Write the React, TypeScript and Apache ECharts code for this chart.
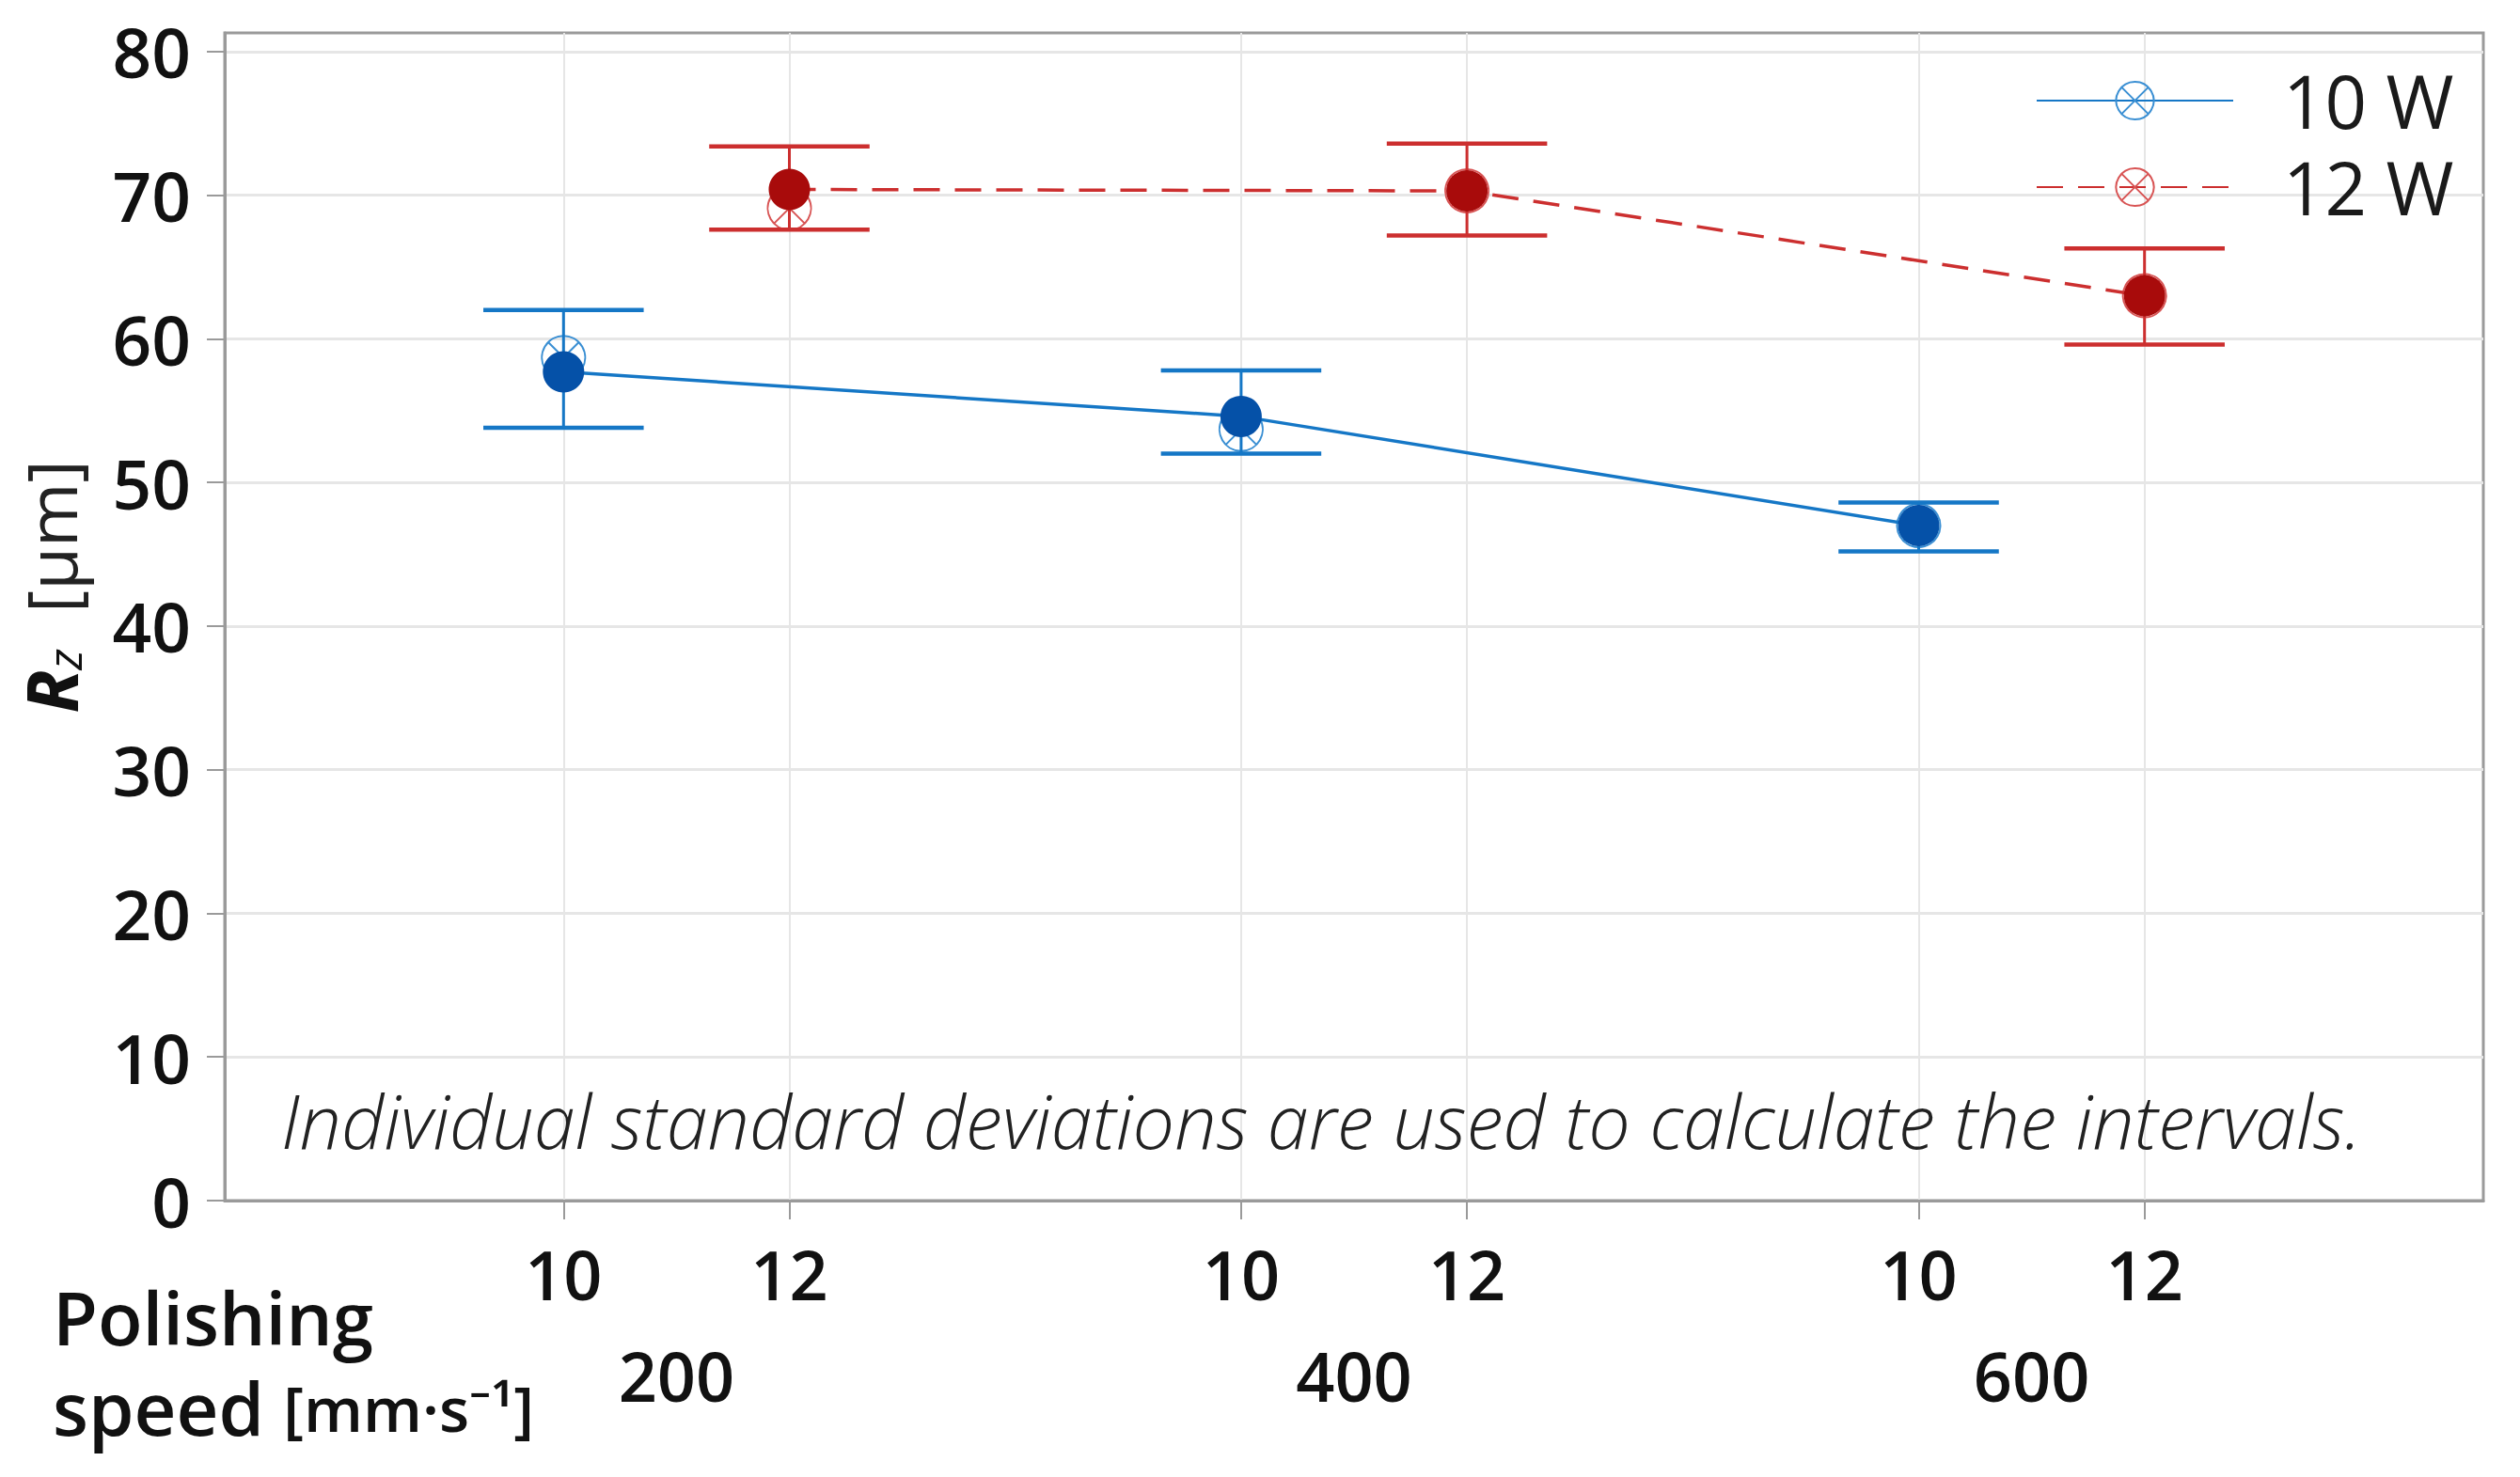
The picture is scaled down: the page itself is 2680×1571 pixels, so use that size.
import React, { useEffect, useRef } from 'react';
import * as echarts from 'echarts';

// ---------- data ----------
const speeds = ['200', '400', '600'];
const powers = ['10', '12'];
const seriesNames = ['10 W', '12 W'];
const mean10 = [57.7, 54.6, 47.0];
const hi10 = [62.0, 57.8, 48.6];
const lo10 = [53.8, 52.0, 45.2];
const open10 = [58.7, 53.7, 47.0];
const mean12 = [70.4, 70.3, 63.0];
const hi12 = [73.4, 73.6, 66.3];
const lo12 = [67.6, 67.2, 59.6];
const open12 = [69.1, 70.3, 63.0];
const yTicks = [0, 10, 20, 30, 40, 50, 60, 70, 80];
const noteText = 'Individual standard deviations are used to calculate the intervals.';
const xTitle1 = 'Polishing';
const xTitle2 = 'speed ';
const xUnit = '[mm·s⁻¹]';

// category slots: gap, 10@200, 12@200, gap, 10@400, ...
const slots: string[] = ['gap0'];
speeds.forEach((s, k) => {
  powers.forEach((p) => slots.push(`${p}@${s}`));
  slots.push(`gap${k + 1}`);
});
const slotOf = (p: string, s: string) => slots.indexOf(`${p}@${s}`);
const isPoint = (_i: number, v: string) => !String(v).startsWith('gap');

const FONT = '"Open Sans", "Noto Sans", sans-serif';
const BLUE_LINE = '#1577c6';
const BLUE_FILL = '#0551a8';
const BLUE_OPEN = '#3a8fd3';
const RED_LINE = '#cc2f2f';
const RED_FILL = '#a80b0b';
const RED_OPEN = '#d85454';
const OTIMES = 'path://M50,4A46,46,0,1,1,49.99,4ZM17.5,17.5L82.5,82.5M82.5,17.5L17.5,82.5';

function pts(power: string, vals: number[]) {
  return speeds.map((s, k) => [slotOf(power, s), vals[k]]);
}
function bars(power: string, lo: number[], hi: number[]) {
  return speeds.map((s, k) => [slotOf(power, s), lo[k], hi[k]]);
}

function errRender(color: string) {
  return (params: any, api: any) => {
    const x = api.value(0);
    const pLo = api.coord([x, api.value(1)]);
    const pHi = api.coord([x, api.value(2)]);
    const half = api.size([1, 0])[0] * 0.355;
    return {
      type: 'group',
      children: [
        { type: 'line', shape: { x1: pHi[0], y1: pHi[1], x2: pLo[0], y2: pLo[1] }, style: { stroke: color, lineWidth: 3 } },
        { type: 'line', shape: { x1: pHi[0] - half, y1: pHi[1], x2: pHi[0] + half, y2: pHi[1] }, style: { stroke: color, lineWidth: 4.5 } },
        { type: 'line', shape: { x1: pLo[0] - half, y1: pLo[1], x2: pLo[0] + half, y2: pLo[1] }, style: { stroke: color, lineWidth: 4.5 } },
      ],
    };
  };
}

export default function App() {
  const ref = useRef<HTMLDivElement>(null);
  useEffect(() => {
    if (!ref.current) return;
    const chart = echarts.init(ref.current, undefined, { renderer: 'svg' });
    const axisGray = '#9a9a9a';
    const option: any = {
      animation: false,
      backgroundColor: '#ffffff',
      grid: { left: 239, right: 39, top: 35, bottom: 294, show: true, borderColor: axisGray, borderWidth: 3, backgroundColor: 'transparent' },
      legend: {
        data: seriesNames,
        orient: 'vertical',
        left: 2165,
        top: 68,
        padding: 0,
        itemWidth: 209,
        itemHeight: 50,
        itemGap: 14,
        textStyle: { fontFamily: FONT, fontSize: 78, color: '#1a1a1a', padding: [0, 0, 0, 48], lineHeight: 50 },
      },
      xAxis: [
        {
          type: 'category',
          data: slots,
          boundaryGap: true,
          axisLine: { show: true, lineStyle: { color: axisGray, width: 3 } },
          axisTick: { show: true, interval: isPoint, alignWithLabel: true, length: 20, lineStyle: { color: axisGray, width: 2 } },
          axisLabel: {
            interval: isPoint,
            formatter: (v: string) => v.split('@')[0],
            fontFamily: FONT,
            fontSize: 72,
            fontWeight: 600,
            color: '#111',
            margin: 40,
            lineHeight: 76,
          },
          splitLine: { show: true, interval: isPoint, alignWithLabel: true, lineStyle: { color: '#e6e6e6', width: 2 } },
        },
        {
          type: 'value',
          min: 0,
          max: 10,
          interval: 1,
          position: 'bottom',
          offset: 110,
          axisLine: { show: false },
          axisTick: { show: false },
          splitLine: { show: false },
          axisLabel: {
            customValues: speeds.map((_s, k) => 3 * k + 2),
            formatter: (v: number) => {
              const k = (v - 2) / 3;
              return Number.isInteger(k) && speeds[k] ? speeds[k] : '';
            },
            fontFamily: FONT,
            fontSize: 72,
            fontWeight: 600,
            color: '#111',
            margin: 38,
            lineHeight: 76,
          },
        },
      ],
      yAxis: {
        type: 'value',
        min: 0,
        max: 81.3,
        name: '{r|R}{z|z}{u|  [μm]}',
        nameLocation: 'middle',
        nameRotate: 90,
        nameGap: 146,
        nameTextStyle: {
          padding: [0, 0, 0, 64],
          rich: {
            r: { fontFamily: FONT, fontSize: 76, fontWeight: 700, fontStyle: 'italic', color: '#111' },
            z: { fontFamily: FONT, fontSize: 50, fontStyle: 'italic', color: '#111', padding: [30, 0, 0, 0] },
            u: { fontFamily: FONT, fontSize: 74, fontWeight: 400, color: '#222' },
          },
        },
        axisLine: { show: true, lineStyle: { color: axisGray, width: 3 } },
        axisTick: { show: true, customValues: yTicks, length: 19, lineStyle: { color: axisGray, width: 2 } },
        axisLabel: {
          customValues: yTicks,
          fontFamily: FONT,
          fontSize: 73,
          fontWeight: 600,
          color: '#111',
          margin: 36,
        },
        splitLine: { show: true, lineStyle: { color: '#e6e6e6', width: 3 } },
      },
      graphic: [
        {
          type: 'text',
          x: 299,
          y: 1191,
          style: { text: noteText, fontFamily: FONT, fontSize: 79, fontStyle: 'italic', fontWeight: 300, fill: '#222', verticalAlign: 'middle' },
          z: 100,
        },
        {
          type: 'text',
          x: 56,
          y: 1401,
          style: { text: xTitle1, fontFamily: FONT, fontSize: 78, fontWeight: 600, fill: '#111', verticalAlign: 'middle' },
        },
        {
          type: 'text',
          x: 56,
          y: 1497,
          style: {
            text: `{a|${xTitle2}}{b|${xUnit}}`,
            verticalAlign: 'middle',
            rich: {
              a: { fontFamily: FONT, fontSize: 78, fontWeight: 600, fill: '#111', color: '#111' },
              b: { fontFamily: FONT, fontSize: 66, fontWeight: 600, fill: '#111', color: '#111' },
            },
          },
        },
      ],
      series: [
        {
          name: '10 W open', type: 'scatter', data: pts('10', open10), symbol: OTIMES, symbolSize: 46,
          itemStyle: { color: 'rgba(0,0,0,0)', borderColor: BLUE_OPEN, borderWidth: 2, opacity: 1 }, z: 2,
        },
        {
          name: '12 W open', type: 'scatter', data: pts('12', open12), symbol: OTIMES, symbolSize: 46,
          itemStyle: { color: 'rgba(0,0,0,0)', borderColor: RED_OPEN, borderWidth: 2, opacity: 1 }, z: 2,
        },
        {
          name: '10 W err', type: 'custom', data: bars('10', lo10, hi10), encode: { x: 0, y: [1, 2] },
          renderItem: errRender(BLUE_LINE), z: 3,
        },
        {
          name: '12 W err', type: 'custom', data: bars('12', lo12, hi12), encode: { x: 0, y: [1, 2] },
          renderItem: errRender(RED_LINE), z: 3,
        },
        {
          name: seriesNames[0], type: 'line', data: pts('10', mean10), symbol: OTIMES, showSymbol: false,
          lineStyle: { color: BLUE_LINE, width: 3.5, type: 'solid' },
          itemStyle: { color: 'rgba(0,0,0,0)', borderColor: BLUE_OPEN, borderWidth: 2 }, z: 4,
        },
        {
          name: seriesNames[1], type: 'line', data: pts('12', mean12), symbol: OTIMES, showSymbol: false,
          lineStyle: { color: RED_LINE, width: 3.5, type: [28, 16] },
          itemStyle: { color: 'rgba(0,0,0,0)', borderColor: RED_OPEN, borderWidth: 2 }, z: 4,
        },
        {
          name: '10 W mean', type: 'scatter', data: pts('10', mean10), symbol: 'circle', symbolSize: 44,
          itemStyle: { color: BLUE_FILL, opacity: 1 }, z: 5,
        },
        {
          name: '12 W mean', type: 'scatter', data: pts('12', mean12), symbol: 'circle', symbolSize: 44,
          itemStyle: { color: RED_FILL, opacity: 1 }, z: 5,
        },
      ],
    };
    chart.setOption(option);
    return () => chart.dispose();
  }, []);
  return <div ref={ref} style={{ position: 'absolute', left: 0, top: 0, width: 2680, height: 1571 }} />;
}
